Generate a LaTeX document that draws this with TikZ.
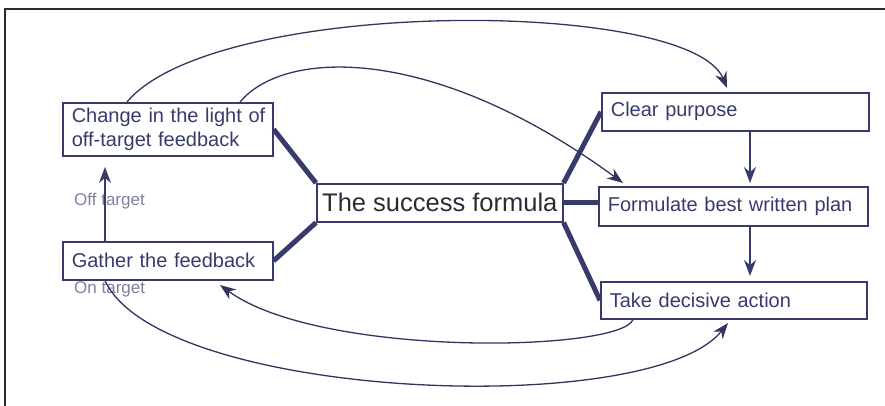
\documentclass[tikz,border=0pt]{standalone}
\usepackage{fontspec}
\setmainfont{Liberation Sans}
\usetikzlibrary{arrows.meta}
\definecolor{ink}{HTML}{363B6B}
\definecolor{dark}{HTML}{2B2B36}
\definecolor{faint}{HTML}{7C809C}
\begin{document}
\begin{tikzpicture}[x=1pt,y=-1pt,
    box/.style={draw=ink,line width=1.6pt,text=ink,anchor=north west,
      font=\fontsize{20}{24}\selectfont,align=left,inner xsep=9pt,inner ysep=0pt},
    hub/.style={draw=ink,line width=1.6pt,text=dark,anchor=north west,
      font=\fontsize{25.5}{29}\selectfont,inner sep=0pt},
    note/.style={text=faint,anchor=west,font=\fontsize{17}{20}\selectfont,inner sep=0pt},
    spoke/.style={draw=ink,line width=5pt},
    flow/.style={draw=ink,line width=1.5pt,-{Stealth[length=16pt,width=12pt]}},
    loop/.style={draw=ink!90!black,line width=1.3pt,-{Stealth[length=16pt,width=12pt]}}]
  \useasboundingbox (0,0) rectangle (885,406);
  \draw[line width=2pt,dark] (5,406) -- (5,9) -- (885,9);
  % the boxes
  \node[box,text width=192pt,minimum height=53pt] (change) at (62,102)
    {\mbox{Change in the light of}\\off-target feedback};
  \node[box,text width=192pt,minimum height=38pt] (gather) at (62,241)
    {Gather the feedback};
  \node[hub,minimum width=246pt,minimum height=38pt] (formula) at (316,183)
    {The success formula};
  \node[box,text width=249pt,minimum height=38pt] (clear) at (601,92)
    {Clear purpose};
  \node[box,text width=251pt,minimum height=39pt] (plan) at (598,186)
    {Formulate best written plan};
  \node[box,text width=248pt,minimum height=37pt] (action) at (600,281)
    {Take decisive action};
  \node[note] (off) at (74,201) {Off target};
  \node[note] (on) at (74,289) {On target};
  % spokes of the formula
  \begin{scope}[spoke]
    \draw (formula.north west) -- (change.east);
    \draw (formula.south west) -- (gather.east);
    \draw (formula.north east) -- (clear.west);
    \draw (formula.east) -- (formula.east -| plan.west);
    \draw (formula.south east) -- (action.west);
  \end{scope}
  % steps
  \coordinate (offtip) at (105,167);
  \draw[flow] (gather.north -| offtip) -- (offtip);
  \coordinate (cleartip) at (750,183);
  \draw[flow] (clear.south -| cleartip) -- (cleartip);
  \coordinate (plantip) at (750,276);
  \draw[flow] (plan.south -| plantip) -- (plantip);
  % feedback loops
  \coordinate (topa) at (727,88);
  \coordinate (topb) at (623,183);
  \coordinate (lowa) at (220,285);
  \coordinate (lowb) at (728,323);
  \draw[loop] ([xshift=65pt]change.north west) .. controls (215,-3) and (690,-2) .. (topa);
  \draw[loop] ([xshift=178pt]change.north west) .. controls (285,48) and (435,45) .. (topb);
  \draw[loop] ([xshift=33pt]action.south west) .. controls (620,352) and (320,358) .. (lowa);
  \draw[loop] ([xshift=43pt]gather.south west) .. controls (160,400) and (650,420) .. (lowb);
\end{tikzpicture}
\end{document}
